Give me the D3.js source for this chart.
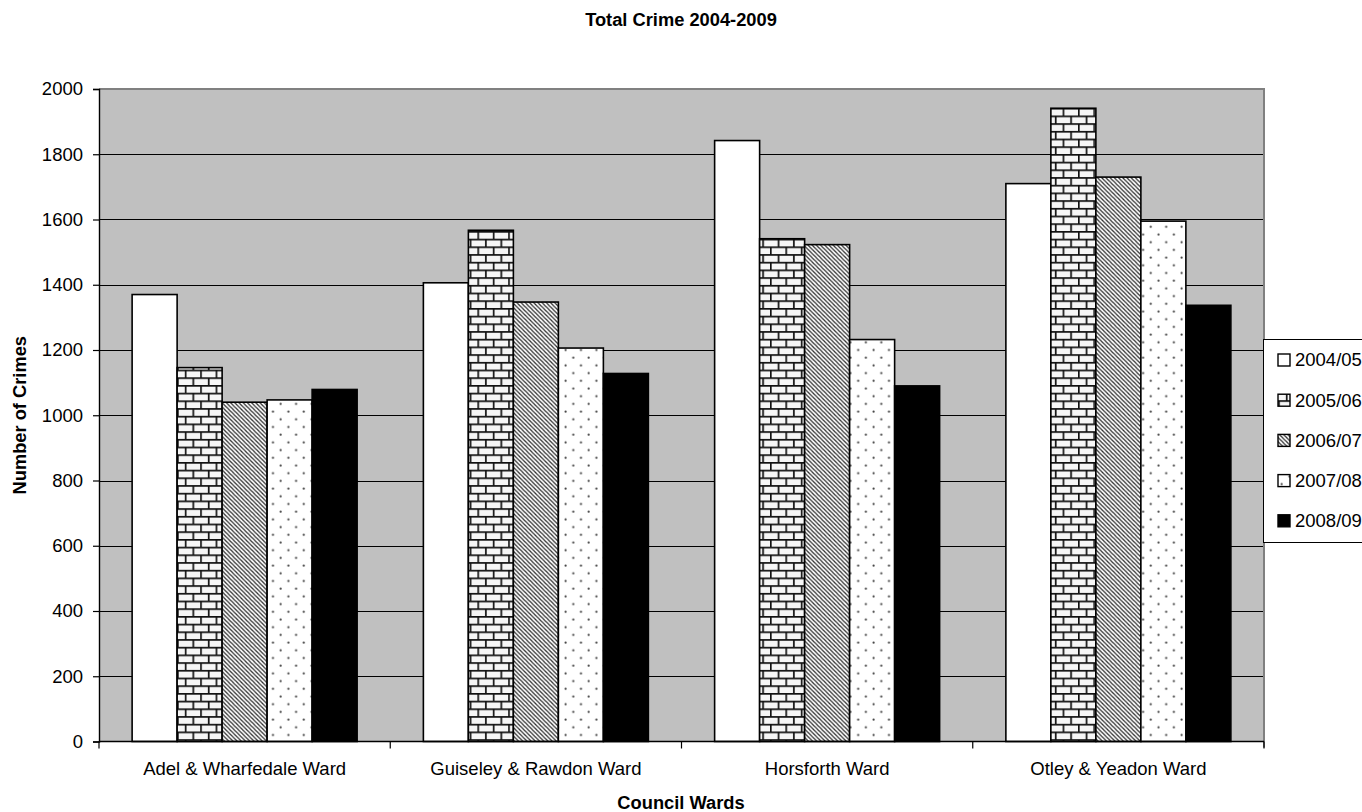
<!DOCTYPE html>
<html>
<head>
<meta charset="utf-8">
<script src="https://cdn.jsdelivr.net/npm/d3@7"></script>
<style>
  html, body { margin: 0; padding: 0; background: #fff; }
  svg { display: block; font-family: "Liberation Sans", Arial, sans-serif; }
</style>
</head>
<body>
<svg id="chart" width="1362" height="812"></svg>
<script>
const categories = ["Adel & Wharfedale Ward", "Guiseley & Rawdon Ward", "Horsforth Ward", "Otley & Yeadon Ward"];
const seriesNames = ["2004/05", "2005/06", "2006/07", "2007/08", "2008/09"];
const v2004_05 = [1370, 1406, 1842, 1710];
const v2005_06 = [1146, 1567, 1541, 1941];
const v2006_07 = [1040, 1347, 1523, 1730];
const v2007_08 = [1047, 1206, 1232, 1595];
const v2008_09 = [1079, 1128, 1090, 1337];
const yTicks = [0, 200, 400, 600, 800, 1000, 1200, 1400, 1600, 1800, 2000];

const seriesValues = [v2004_05, v2005_06, v2006_07, v2007_08, v2008_09];
const fills = ["#ffffff", "url(#brick)", "url(#diag)", "url(#dots)", "#000000"];

const svg = d3.select("#chart");
const plot = { left: 99, right: 1264, top: 89, bottom: 741.5 };

// patterns
const defs = svg.append("defs");
const brick = defs.append("pattern").attr("id", "brick").attr("patternUnits", "userSpaceOnUse")
  .attr("width", 15.4).attr("height", 15.4);
brick.append("rect").attr("width", 15.4).attr("height", 15.4).attr("fill", "#f6f6f6");
brick.append("path").attr("d", "M0,0.8H15.4M0,8.5H15.4M0.8,0V8.5M8.5,8.5V15.4")
  .attr("stroke", "#111").attr("stroke-width", 1.7).attr("fill", "none");

const diag = defs.append("pattern").attr("id", "diag").attr("patternUnits", "userSpaceOnUse")
  .attr("width", 4.2).attr("height", 4.2);
diag.append("rect").attr("width", 4.2).attr("height", 4.2).attr("fill", "#ffffff");
diag.append("path").attr("d", "M0,0L4.2,4.2M-1,3.2L1,5.2M3.2,-1L5.2,1")
  .attr("stroke", "#333").attr("stroke-width", 1.3).attr("fill", "none");

const dots = defs.append("pattern").attr("id", "dots").attr("patternUnits", "userSpaceOnUse")
  .attr("width", 15.4).attr("height", 15.4);
dots.append("rect").attr("width", 15.4).attr("height", 15.4).attr("fill", "#ffffff");
dots.append("circle").attr("cx", 3.5).attr("cy", 3.5).attr("r", 1.1).attr("fill", "#444");
dots.append("circle").attr("cx", 11.2).attr("cy", 11.2).attr("r", 1.1).attr("fill", "#444");

// scales
const x0 = d3.scaleBand().domain(categories).range([plot.left, plot.right]).padding(0);
const groupPad = (x0.bandwidth() - 225) / 2;
const x1 = d3.scaleBand().domain(seriesNames).range([groupPad, x0.bandwidth() - groupPad]).padding(0);
const y = d3.scaleLinear().domain([0, 2000]).range([plot.bottom, plot.top]);

// plot background
svg.append("rect").attr("x", plot.left).attr("y", plot.top)
  .attr("width", plot.right - plot.left).attr("height", plot.bottom - plot.top)
  .attr("fill", "#c0c0c0");

// gridlines
svg.append("g").selectAll("line").data(yTicks.filter(t => t > 0 && t < 2000)).join("line")
  .attr("x1", plot.left).attr("x2", plot.right)
  .attr("y1", d => Math.round(y(d)) + 0.5).attr("y2", d => Math.round(y(d)) + 0.5)
  .attr("stroke", "#000").attr("stroke-width", 1);

// plot border top/right (grey)
svg.append("path")
  .attr("d", `M${plot.left},${plot.top}H${plot.right}V${plot.bottom + 6}`)
  .attr("fill", "none").attr("stroke", "#808080").attr("stroke-width", 2);

// bars
const groups = svg.append("g").selectAll("g").data(seriesNames).join("g");
groups.each(function(s, si) {
  d3.select(this).selectAll("rect").data(categories).join("rect")
    .attr("x", c => x0(c) + x1(s))
    .attr("width", x1.bandwidth())
    .attr("y", (c, ci) => y(seriesValues[si][ci]))
    .attr("height", (c, ci) => y(0) - y(seriesValues[si][ci]))
    .attr("fill", fills[si])
    .attr("stroke", "#000").attr("stroke-width", 1.6);
});

// y axis
const yAxis = svg.append("g").attr("transform", `translate(${plot.left},0)`)
  .call(d3.axisLeft(y).tickValues(yTicks).tickFormat(d3.format("d")).tickSize(6).tickPadding(10));
yAxis.select(".domain").attr("stroke", "#000").attr("stroke-width", 1.4);
yAxis.selectAll(".tick line").attr("stroke", "#000").attr("stroke-width", 1.2);
yAxis.selectAll("text").attr("font-size", "18.5px").attr("fill", "#000")
  .attr("font-family", "'Liberation Sans', Arial, sans-serif");

// x axis
const xAxis = svg.append("g").attr("transform", `translate(0,${plot.bottom})`)
  .call(d3.axisBottom(x0).tickSize(0).tickPadding(20));
xAxis.select(".domain").remove();
xAxis.selectAll("text").attr("font-size", "18.5px").attr("fill", "#000")
  .attr("font-family", "'Liberation Sans', Arial, sans-serif");
svg.append("line").attr("x1", plot.left).attr("x2", plot.right)
  .attr("y1", plot.bottom).attr("y2", plot.bottom).attr("stroke", "#000").attr("stroke-width", 1.4);
const boundaries = categories.map(c => x0(c)).concat([x0(categories[categories.length - 1]) + x0.bandwidth()]);
svg.append("g").selectAll("line").data(boundaries).join("line")
  .attr("x1", d => d).attr("x2", d => d)
  .attr("y1", plot.bottom).attr("y2", plot.bottom + 7)
  .attr("stroke", "#000").attr("stroke-width", 1.2);

// titles
svg.append("text").attr("x", 681).attr("y", 26).attr("text-anchor", "middle")
  .attr("font-size", "18.3px").attr("font-weight", "bold").text("Total Crime 2004-2009");
svg.append("text").attr("x", 681).attr("y", 809).attr("text-anchor", "middle")
  .attr("font-size", "18.3px").attr("font-weight", "bold").text("Council Wards");
svg.append("text").attr("transform", `translate(26,${(plot.top + plot.bottom) / 2}) rotate(-90)`)
  .attr("text-anchor", "middle")
  .attr("font-size", "18.3px").attr("font-weight", "bold").text("Number of Crimes");

// legend
const legend = svg.append("g");
legend.append("rect").attr("x", 1263.5).attr("y", 339.5).attr("width", 120).attr("height", 203)
  .attr("fill", "#fff").attr("stroke", "#000").attr("stroke-width", 1);
const leg = legend.selectAll("g").data(seriesNames).join("g")
  .attr("transform", (d, i) => `translate(0,${360 + i * 40.2})`);
leg.append("rect").attr("x", 1278).attr("y", -6).attr("width", 12).attr("height", 12)
  .attr("fill", (d, i) => fills[i]).attr("stroke", "#000").attr("stroke-width", 1.4);
leg.append("text").attr("x", 1295).attr("y", 0).attr("dy", "0.35em")
  .attr("font-size", "18.5px").text(d => d);
</script>
</body>
</html>
